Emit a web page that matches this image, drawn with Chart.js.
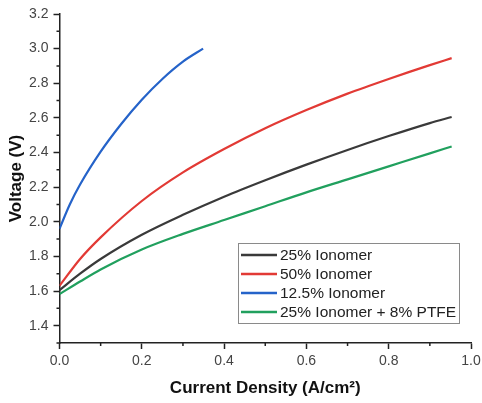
<html>
<head>
<meta charset="utf-8"/>
<title>Voltage vs Current Density</title>
<script src="https://cdn.jsdelivr.net/npm/chart.js@4.4.1/dist/chart.umd.min.js"></script>
<style>
    body { margin: 0; background: #fff; }
    #caja { width: 482px; height: 403px; }
</style>
</head>
<body>
<div id="caja"><canvas id="grafica" width="482" height="403"></canvas></div>
<script>
// series names and colours, in legend order
var seriesNames = ['25% Ionomer', '50% Ionomer', '12.5% Ionomer', '25% Ionomer + 8% PTFE']
var seriesColors = ['#3a3a3a', '#e23a35', '#2563c9', '#21a05e']

// current density (A/cm2) and voltage (V)
var current25 = [0, 0.05, 0.1, 0.2, 0.3, 0.4, 0.5, 0.6, 0.7, 0.8, 0.9, 0.953]
var voltage25 = [1.605, 1.70, 1.785, 1.925, 2.04, 2.145, 2.24, 2.33, 2.415, 2.495, 2.57, 2.605]

var current50 = [0, 0.05, 0.1, 0.2, 0.3, 0.4, 0.5, 0.6, 0.7, 0.8, 0.9, 0.953]
var voltage50 = [1.63, 1.785, 1.91, 2.12, 2.285, 2.42, 2.54, 2.645, 2.74, 2.825, 2.905, 2.945]

var current12 = [0, 0.025, 0.05, 0.1, 0.15, 0.2, 0.25, 0.3, 0.349]
var voltage12 = [1.96, 2.10, 2.215, 2.405, 2.565, 2.705, 2.825, 2.925, 3.0]

var currentPtfe = [0, 0.05, 0.1, 0.2, 0.3, 0.4, 0.5, 0.6, 0.7, 0.8, 0.9, 0.953]
var voltagePtfe = [1.582, 1.655, 1.725, 1.84, 1.93, 2.01, 2.09, 2.17, 2.245, 2.32, 2.395, 2.435]

var xMin = 0, xMax = 1.0
var yMin = 1.3, yMax = 3.2

var puntos = (xs, ys) => xs.map((x, i) => ({ x: x, y: ys[i] }))
var series = [[current25, voltage25], [current50, voltage50], [current12, voltage12], [currentPtfe, voltagePtfe]]

var esMenor = (v) => Math.round(v * 10) % 2 !== 0
var fuente = "'Liberation Sans', Arial, sans-serif"

// short minor ticks between the labelled ones
var minorTicks = {
    id: 'minorTicks',
    afterDraw: (chart) => {
        var ctx = chart.ctx
        var sx = chart.scales.x, sy = chart.scales.y
        ctx.save()
        ctx.strokeStyle = '#222'
        ctx.lineWidth = 1.5
        ctx.beginPath()
        sx.ticks.forEach((t) => {
            if (esMenor(t.value)) {
                var px = sx.getPixelForValue(t.value)
                ctx.moveTo(px, sx.top); ctx.lineTo(px, sx.top + 3)
            }
        })
        sy.ticks.forEach((t) => {
            if (esMenor(t.value)) {
                var py = sy.getPixelForValue(t.value)
                ctx.moveTo(sy.right - 3, py); ctx.lineTo(sy.right, py)
            }
        })
        ctx.stroke()
        ctx.restore()
    }
}

// boxed legend inside the plot, lower right
var leyenda = {
    id: 'leyenda',
    afterDraw: (chart) => {
        var ctx = chart.ctx
        ctx.save()
        ctx.strokeStyle = '#8a8a8a'
        ctx.lineWidth = 1
        ctx.strokeRect(238.5, 243.5, 221, 80)
        ctx.font = '15.5px ' + fuente
        ctx.textBaseline = 'middle'
        ctx.fillStyle = '#222'
        chart.data.datasets.forEach((ds, i) => {
            var yy = 255 + i * 19
            ctx.strokeStyle = ds.borderColor
            ctx.lineWidth = 2.5
            ctx.beginPath()
            ctx.moveTo(241, yy); ctx.lineTo(277, yy)
            ctx.stroke()
            ctx.fillText(ds.label, 280, yy + 1)
        })
        ctx.restore()
    }
}

var contenedor = document.getElementById('grafica')
var grafica = new Chart(contenedor, {
    type: 'line',
    data: {
        datasets: series.map((s, i) => ({
            label: seriesNames[i],
            data: puntos(s[0], s[1]),
            borderColor: seriesColors[i],
            backgroundColor: 'rgba(0,0,0,0)',
            borderWidth: 2.2,
            pointRadius: 0,
            cubicInterpolationMode: 'monotone',
            fill: false
        }))
    },
    options: {
        responsive: false,
        animation: false,
        layout: { padding: { top: 14, right: 11, left: 0, bottom: 0 } },
        plugins: { legend: { display: false }, tooltip: { enabled: false } },
        scales: {
            x: {
                type: 'linear',
                min: xMin, max: xMax,
                afterFit: (scale) => { scale.height = 60; scale.paddingRight = 0; scale.paddingLeft = 0 },
                border: { display: true, color: '#222', width: 1.5 },
                grid: {
                    drawOnChartArea: false, drawTicks: true, tickLength: 6, tickWidth: 1.5,
                    tickColor: (c) => c.tick && esMenor(c.tick.value) ? 'rgba(0,0,0,0)' : '#222'
                },
                ticks: {
                    stepSize: 0.1, autoSkip: false, maxRotation: 0, padding: 4,
                    color: '#444', font: { family: fuente, size: 14 },
                    callback: (v) => esMenor(v) ? '' : v.toFixed(1)
                },
                title: {
                    display: true, text: 'Current Density (A/cm²)', color: '#111',
                    font: { family: fuente, size: 17, weight: 'bold' },
                    padding: { top: 4, bottom: 4 }
                }
            },
            y: {
                min: yMin, max: yMax,
                afterFit: (scale) => { scale.width = 59.5 },
                border: { display: true, color: '#222', width: 1.5 },
                grid: {
                    drawOnChartArea: false, drawTicks: true, tickLength: 6, tickWidth: 1.5,
                    tickColor: (c) => c.tick && esMenor(c.tick.value) ? 'rgba(0,0,0,0)' : '#222'
                },
                ticks: {
                    stepSize: 0.1, autoSkip: false, padding: 5,
                    color: '#444', font: { family: fuente, size: 14 },
                    callback: (v) => esMenor(v) ? '' : v.toFixed(1)
                },
                title: {
                    display: true, text: 'Voltage (V)', color: '#111',
                    font: { family: fuente, size: 17, weight: 'bold' },
                    padding: { top: 6, bottom: 4 }
                }
            }
        }
    },
    plugins: [minorTicks, leyenda]
})
</script>
</body>
</html>
